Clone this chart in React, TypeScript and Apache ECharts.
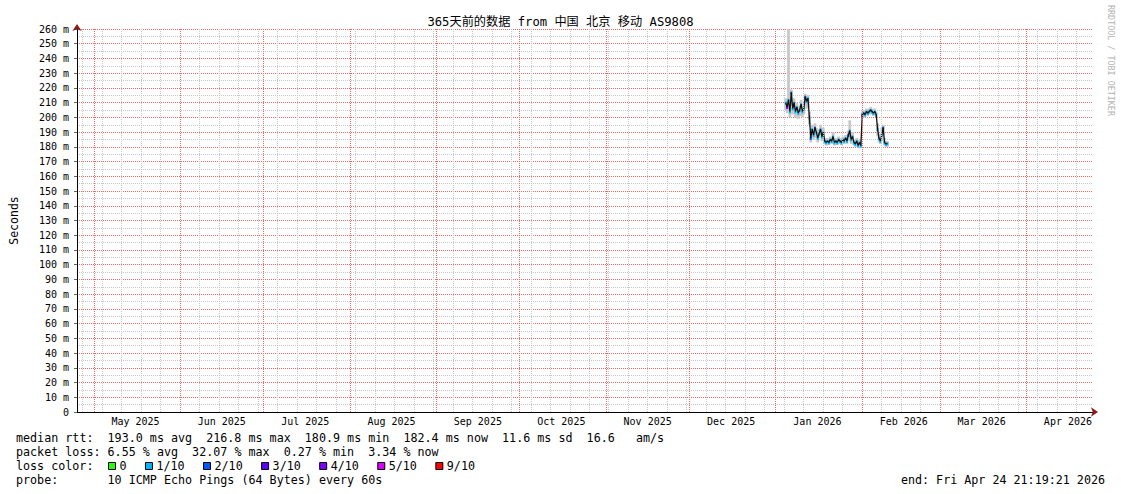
import React, { useEffect, useRef } from "react";
import * as echarts from "echarts";

// ---------- time frame ----------
const START = Date.UTC(2025, 3, 24, 21, 19, 21);
const END = Date.UTC(2026, 3, 24, 21, 19, 21);
const HOUR = 3600 * 1000;
const DAY = 24 * HOUR;
const SAMPLE_STEP = 12 * HOUR;
const FIRST_SAMPLE = Date.UTC(2026, 0, 4, 12, 0, 0);

// ---------- data (ms) ----------
const medianRtt = [
  210, 207, 212, 204, 216.8, 206, 210, 204, 207, 203,
  205, 209, 204, 206, 214, 211, 213, 200, 186, 192,
  188, 193, 190, 186, 189, 192, 187, 190, 184, 183,
  184, 183, 185, 184, 187, 183, 184, 183, 185, 184,
  183, 185, 184, 186, 184, 188, 191, 185, 187, 183,
  182, 184, 181, 183, 180.9, 202, 203, 202, 204, 203,
  204, 205, 204, 203, 204, 202, 192, 186, 184, 188,
  193, 183, 182, 182.4,
];
const smokeHi = [
  213, 210, 260, 207, 219, 209, 213, 207, 210, 206,
  208, 212, 207, 209, 216, 214, 215, 204, 190, 195,
  191, 196, 193, 189, 192, 195, 190, 193, 186, 185,
  186, 185, 187, 186, 190, 185, 186, 185, 187, 186,
  185, 187, 186, 188, 186, 191, 198, 188, 190, 185,
  184, 186, 184, 185, 183, 204, 205, 204, 206, 205,
  206, 207, 206, 205, 206, 204, 196, 189, 186, 193,
  195, 186, 184, 184,
];
const smokeLo = [
  205, 203, 206, 200, 208, 202, 205, 200, 203, 199,
  201, 204, 200, 202, 208, 206, 207, 195, 183, 188,
  185, 189, 186, 183, 186, 188, 184, 186, 182, 181,
  182, 181, 182, 182, 183, 181, 182, 181, 182, 182,
  181, 182, 182, 183, 182, 184, 185, 182, 184, 181,
  180, 182, 179, 181, 179, 200, 201, 200, 202, 201,
  202, 203, 202, 201, 202, 200, 187, 183, 182, 184,
  188, 181, 180, 180,
];
// packet loss in tenths (1 => 1/10)
const lossTenths = [
  1, 4, 1, 1, 2, 1, 1, 1, 1, 1,
  1, 1, 1, 1, 2, 1, 1, 1, 2, 1,
  1, 2, 1, 1, 1, 1, 1, 1, 1, 1,
  1, 1, 1, 1, 1, 1, 1, 1, 1, 1,
  1, 1, 1, 1, 1, 2, 1, 1, 1, 1,
  1, 1, 1, 1, 1, 2, 1, 1, 1, 1,
  1, 1, 1, 1, 1, 1, 1, 1, 1, 1,
  2, 1, 1, 1,
];
const sampleTimes = medianRtt.map((_, i) => FIRST_SAMPLE + i * SAMPLE_STEP);

const monthLabels = [
  "May 2025", "Jun 2025", "Jul 2025", "Aug 2025", "Sep 2025", "Oct 2025",
  "Nov 2025", "Dec 2025", "Jan 2026", "Feb 2026", "Mar 2026", "Apr 2026",
];

const lossLegendLabels = ["0", "1/10", "2/10", "3/10", "4/10", "5/10", "9/10"];
const lossLegendColors = ["#26ff00", "#00b8ff", "#0059ff", "#5e00ff", "#7e00ff", "#dd00ff", "#ff0000"];

const rttStats = ["193.0 ms avg", "216.8 ms max", "180.9 ms min", "182.4 ms now", "11.6 ms sd"];
const amsValue = "16.6";
const lossStats = ["6.55 % avg", "32.07 % max", "0.27 % min", "3.34 % now"];
const probeText = "10 ICMP Echo Pings (64 Bytes) every 60s";
const endText = "end: Fri Apr 24 21:19:21 2026";
const titleText = "365天前的数据 from 中国 北京 移动 AS9808";

// ---------- helpers ----------
const MONO = "'DejaVu Sans Mono', monospace";
const FS = 11.7;
const CW = FS * 0.6021;

function lossColor(t: number) {
  if (t <= 0) return "#26ff00";
  if (t === 1) return "#00b8ff";
  if (t === 2) return "#0059ff";
  if (t === 3) return "#5e00ff";
  if (t === 4) return "#7e00ff";
  if (t < 9) return "#dd00ff";
  return "#ff0000";
}

function monoLine(line: string, x0: number, y: number) {
  const els: any[] = [];
  const re = /\S+/g;
  let m: RegExpExecArray | null;
  while ((m = re.exec(line))) {
    els.push({
      type: "text",
      x: x0 + m.index * CW,
      y,
      style: { text: m[0], fontFamily: MONO, fontSize: FS, fill: "#000", align: "left", verticalAlign: "middle" },
    });
  }
  return els;
}

const hourCount = Math.round((END - START) / HOUR);
const hourCats = Array.from({ length: hourCount + 1 }, (_, k) => String(k));
const idxOf = (t: number) => Math.round((t - START) / HOUR);
const monthStarts: number[] = monthLabels.map((_, m) => Date.UTC(2025, 4 + m, 1));
const monthMidIdx = new Map<number, string>();
monthLabels.forEach((lab, m) => {
  monthMidIdx.set(idxOf(Date.UTC(2025, 4 + m, 15, 21)), lab);
});
const weekStarts: number[] = [];
for (let t = Date.UTC(2025, 3, 27); t < END; t += 7 * DAY) weekStarts.push(t);

const RED = "#ee6a6a";
const GRAY = "#c8c8c8";

export default function App() {
  const ref = useRef<HTMLDivElement>(null);
  useEffect(() => {
    if (!ref.current) return;
    const chart = echarts.init(ref.current, undefined, { renderer: "svg" });

    const L = 16;
    const rows = [438, 452, 466, 480];
    const line1 = "median rtt:  " + rttStats.join("  ") + "  " + amsValue + "   am/s";
    const line2 = "packet loss: " + lossStats.join("  ");
    const graphics: any[] = [];
    graphics.push(...monoLine(line1, L, rows[0]));
    graphics.push(...monoLine(line2, L, rows[1]));
    graphics.push(...monoLine("loss color:", L, rows[2]));
    let bx = 108.5;
    lossLegendLabels.forEach((lab, i) => {
      graphics.push({
        type: "rect",
        x: bx,
        y: rows[2] - 3.5,
        shape: { x: 0, y: 0, width: 7, height: 7 },
        style: { fill: lossLegendColors[i], stroke: "#000", lineWidth: 1 },
      });
      graphics.push({
        type: "text",
        x: bx + 11,
        y: rows[2],
        style: { text: lab, fontFamily: MONO, fontSize: FS, fill: "#000", align: "left", verticalAlign: "middle" },
      });
      bx += 11 + lab.length * CW + 18.9;
    });
    graphics.push(...monoLine("probe:       " + probeText, L, rows[3]));
    graphics.push({
      type: "text",
      x: 1105,
      y: rows[3],
      style: { text: endText, fontFamily: MONO, fontSize: FS, fill: "#000", align: "right", verticalAlign: "middle" },
    });
    graphics.push({
      type: "text",
      x: 1111,
      y: 5,
      rotation: -Math.PI / 2,
      style: { text: "RRDTOOL / TOBI OETIKER", fontFamily: MONO, fontSize: 8.4, fill: "#b4b4b4", align: "left", verticalAlign: "middle" },
    });

    const gridSeries = (id: string, times: number[], color: string) => {
      const ls = { color, type: [1, 1], width: 1, opacity: 1 };
      return {
        type: "line",
        id,
        name: id,
        xAxisIndex: 0,
        yAxisIndex: 0,
        z: 1,
        color,
        data: [],
        markLine: {
          silent: true,
          symbol: ["none", "none"],
          label: { show: false },
          lineStyle: ls,
          emphasis: { disabled: true },
          data: times.map((t) => ({ xAxis: t, lineStyle: ls })),
        },
      };
    };

    const option: any = {
      animation: false,
      backgroundColor: "#ffffff",
      title: {
        text: titleText,
        left: "center",
        top: 11,
        textStyle: {
          fontFamily: "'DejaVu Sans Mono', 'Noto Sans CJK SC', sans-serif",
          fontSize: 12.2,
          fontWeight: "normal",
          color: "#000",
        },
      },
      grid: { left: 67, right: 28, top: 29, bottom: 82, containLabel: false },
      xAxis: [
        {
          type: "time",
          min: START,
          max: END,
          axisLine: { show: true, lineStyle: { color: "#000", width: 1 } },
          axisTick: { show: false },
          axisLabel: { show: false },
          splitLine: { show: false },
        },
        {
          type: "category",
          data: hourCats,
          boundaryGap: false,
          position: "bottom",
          axisLine: {
            show: true,
            lineStyle: { color: "#8b1a1a", width: 0 },
            symbol: ["none", "arrow"],
            symbolSize: [7, 7],
            symbolOffset: [0, 5],
          },
          axisTick: { show: false },
          axisLabel: {
            show: true,
            interval: (i: number) => monthMidIdx.has(i),
            formatter: (v: string) => monthMidIdx.get(Number(v)) ?? "",
            fontFamily: MONO,
            fontSize: 10,
            color: "#000",
            margin: 4,
          },
          splitLine: { show: false },
        },
      ],
      yAxis: [
        {
          type: "value",
          min: 0,
          max: 260,
          interval: 10,
          name: "Seconds",
          nameLocation: "middle",
          nameGap: 57,
          nameRotate: 90,
          nameTextStyle: { fontFamily: MONO, fontSize: 11.5, color: "#000" },
          axisLine: { show: true, lineStyle: { color: "#000", width: 1 } },
          axisTick: { show: true, length: 3, lineStyle: { color: "#666" } },
          axisLabel: {
            formatter: (v: number) => (v === 0 ? "0" : `${v} m`),
            fontFamily: MONO,
            fontSize: 10,
            color: "#000",
            margin: 8,
          },
          splitLine: { show: true, lineStyle: { color: RED, type: [1, 1], width: 1 } },
          minorTick: { show: false, splitNumber: 2 },
          minorSplitLine: { show: true, lineStyle: { color: GRAY, type: [1, 1], width: 1 } },
        },
        {
          type: "value",
          min: 0,
          max: 260,
          position: "left",
          axisLine: {
            show: true,
            lineStyle: { color: "#8b1a1a", width: 0 },
            symbol: ["none", "arrow"],
            symbolSize: [7, 7],
            symbolOffset: [0, 5],
          },
          axisTick: { show: false },
          axisLabel: { show: false },
          splitLine: { show: false },
        },
      ],
      series: [
        gridSeries("weekGrid", weekStarts, GRAY),
        gridSeries("monthGrid", monthStarts, RED),
        {
          type: "custom",
          name: "smoke",
          xAxisIndex: 0,
          yAxisIndex: 0,
          z: 2,
          data: sampleTimes.map((t, i) => [t, smokeLo[i], smokeHi[i]]),
          encode: { x: 0, y: [1, 2] },
          renderItem: (params: any, api: any) => {
            const t = api.value(0);
            const top = api.coord([t, api.value(2)]);
            const bot = api.coord([t, api.value(1)]);
            const w = api.size([DAY, 0])[0];
            return {
              type: "rect",
              shape: { x: top[0] - w / 2, y: top[1], width: w, height: bot[1] - top[1] },
              style: { fill: "#c8c8c8" },
            };
          },
        },
        {
          type: "custom",
          name: "loss",
          xAxisIndex: 0,
          yAxisIndex: 0,
          z: 3,
          data: sampleTimes.map((t, i) => [t, medianRtt[i], lossTenths[i]]),
          encode: { x: 0, y: 1 },
          renderItem: (params: any, api: any) => {
            const p = api.coord([api.value(0), api.value(1)]);
            const w = api.size([SAMPLE_STEP, 0])[0];
            return {
              type: "rect",
              shape: { x: p[0] - w / 2 - 0.3, y: p[1] - 1, width: w + 0.6, height: 3 },
              style: { fill: lossColor(api.value(2)) },
            };
          },
        },
        {
          type: "line",
          name: "median",
          xAxisIndex: 0,
          yAxisIndex: 0,
          z: 4,
          data: sampleTimes.map((t, i) => [t, medianRtt[i]]),
          symbol: "none",
          lineStyle: { color: "#111", width: 1.3 },
        },
      ],
      graphic: graphics,
    };
    chart.setOption(option);

    // snap the vertical grid lines onto pixel centres so the dotted lines stay crisp
    const snap = (t: number) => {
      const px = chart.convertToPixel({ xAxisIndex: 0 }, t) as number;
      const back = chart.convertFromPixel({ xAxisIndex: 0 }, Math.floor(px) + 0.5) as number;
      return typeof back === "number" && isFinite(back) ? back : t;
    };
    chart.setOption({
      series: [
        gridSeries("weekGrid", weekStarts.map(snap), GRAY),
        gridSeries("monthGrid", monthStarts.map(snap), RED),
      ],
    });
    return () => chart.dispose();
  }, []);

  return (
    <div
      ref={ref}
      style={{ position: "absolute", left: 0, top: 0, width: 1121, height: 494, background: "#fff" }}
    />
  );
}
